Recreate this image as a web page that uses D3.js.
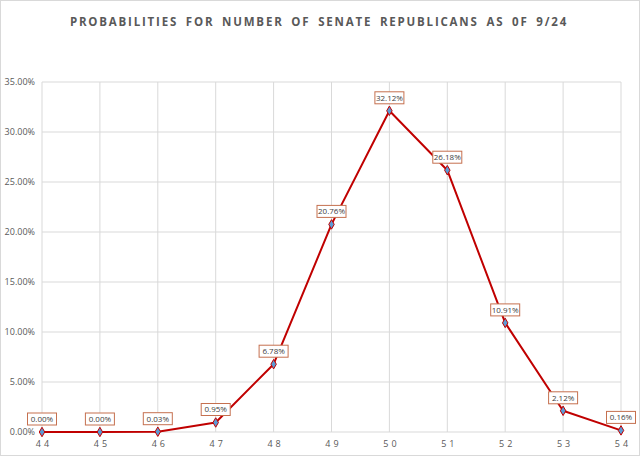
<!DOCTYPE html>
<html>
<head>
<meta charset="utf-8">
<script src="https://cdn.jsdelivr.net/npm/d3@7"></script>
<style>
  body { margin: 0; background: #fff; }
  svg { display: block; }
</style>
</head>
<body>
<svg id="chart"></svg>
<script>
// Data
const seats = ["44", "45", "46", "47", "48", "49", "50", "51", "52", "53", "54"];
const probs = [0.0, 0.0, 0.03, 0.95, 6.78, 20.76, 32.12, 26.18, 10.91, 2.12, 0.16];
const yTicks = [0, 5, 10, 15, 20, 25, 30, 35];

const W = 640, H = 456;
const margin = { top: 82, right: 19, bottom: 24, left: 42 };
const innerW = W - margin.left - margin.right;
const innerH = H - margin.top - margin.bottom;
const grey = "#595959";
const font = "'Open Sans', 'DejaVu Sans', sans-serif";

const svg = d3.select("#chart").attr("width", W).attr("height", H);

// outer chart border
svg.append("rect")
  .attr("x", 0.5).attr("y", 0.5)
  .attr("width", W - 1).attr("height", H - 1)
  .attr("fill", "#fff").attr("stroke", "#d9d9d9");

// Title
svg.append("text")
  .attr("x", W / 2 - 1)
  .attr("y", 25.5)
  .attr("text-anchor", "middle")
  .style("font-family", font)
  .style("font-size", "11.5px")
  .style("font-weight", "bold")
  .style("letter-spacing", "1.8px")
  .style("word-spacing", "3px")
  .attr("fill", grey)
  .text("PROBABILITIES FOR NUMBER OF SENATE REPUBLICANS AS 0F 9/24");

const g = svg.append("g")
  .attr("transform", `translate(${margin.left},${margin.top})`);

// Scales
const x = d3.scalePoint().domain(seats).range([0, innerW]);
const y = d3.scaleLinear().domain([0, 35]).range([innerH, 0]);

// horizontal gridlines
g.append("g")
  .selectAll("line")
  .data(yTicks)
  .join("line")
  .attr("x1", 0).attr("x2", innerW)
  .attr("y1", (d) => y(d)).attr("y2", (d) => y(d))
  .attr("stroke", "#d9d9d9").attr("stroke-width", 1);

// vertical gridlines
g.append("g")
  .selectAll("line")
  .data(seats)
  .join("line")
  .attr("x1", (d) => x(d)).attr("x2", (d) => x(d))
  .attr("y1", 0).attr("y2", innerH)
  .attr("stroke", "#d9d9d9").attr("stroke-width", 1);

// Y axis
const yAxis = g.append("g")
  .call(d3.axisLeft(y).tickValues(yTicks).tickSize(0).tickPadding(7)
    .tickFormat((d) => d.toFixed(2) + "%"));
yAxis.select(".domain").remove();
yAxis.selectAll("text")
  .style("font-family", font)
  .style("font-size", "9px")
  .attr("fill", grey);

// X axis
const xAxis = g.append("g")
  .attr("transform", `translate(0,${innerH})`)
  .call(d3.axisBottom(x).tickSize(0).tickPadding(9));
xAxis.select(".domain").remove();
xAxis.selectAll("text")
  .style("font-family", font)
  .style("font-size", "9px")
  .style("letter-spacing", "3px")
  .attr("dx", "1.5px")
  .attr("fill", grey);

// Line
const pts = seats.map((s, i) => ({ seat: s, v: probs[i] }));
const line = d3.line().x((d) => x(d.seat)).y((d) => y(d.v));

g.append("path")
  .datum(pts)
  .attr("d", line)
  .attr("fill", "none")
  .attr("stroke", "#c00000")
  .attr("stroke-width", 2)
  .attr("stroke-linejoin", "round");

// Diamond markers
g.append("g")
  .selectAll("path")
  .data(pts)
  .join("path")
  .attr("transform", (d) => `translate(${x(d.seat)},${y(d.v)})`)
  .attr("d", d3.symbol().type(d3.symbolDiamond).size(26))
  .attr("fill", "#5b9bd5")
  .attr("stroke", "#c00000")
  .attr("stroke-width", 1);

// Data labels
const labels = g.append("g")
  .selectAll("g")
  .data(pts)
  .join("g")
  .attr("transform", (d) => `translate(${x(d.seat)},${y(d.v) - 13})`);

labels.append("rect")
  .attr("x", -14.5).attr("y", -6)
  .attr("width", 29).attr("height", 12)
  .attr("fill", "#fff")
  .attr("stroke", "#c5704f")
  .attr("stroke-width", 1);

labels.append("text")
  .attr("text-anchor", "middle")
  .attr("dy", "0.35em")
  .style("font-family", font)
  .style("font-size", "8px")
  .attr("fill", "#404040")
  .text((d) => d.v.toFixed(2) + "%");
</script>
</body>
</html>
